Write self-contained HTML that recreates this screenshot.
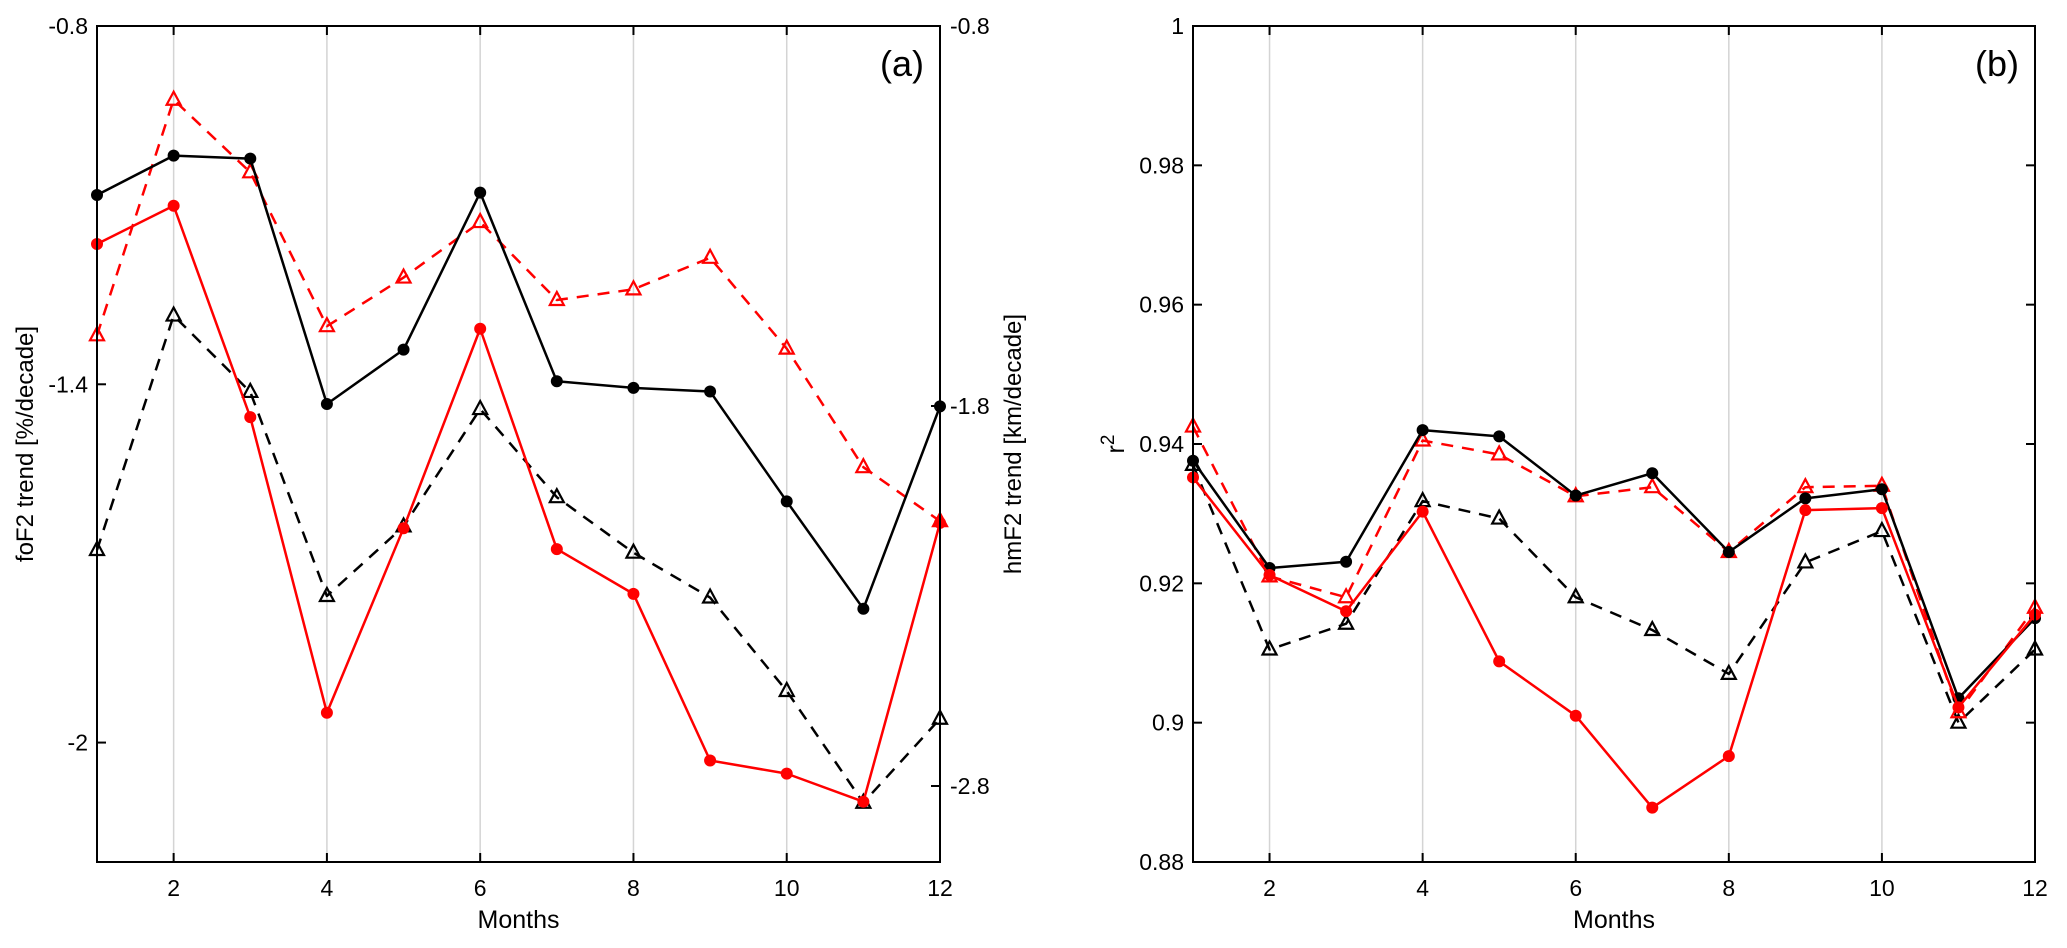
<!DOCTYPE html>
<html><head><meta charset="utf-8"><style>
html,body{margin:0;padding:0;background:#fff;}
svg{display:block;font-family:"Liberation Sans",Arial,sans-serif;}
</style></head><body>
<svg id="chart" width="2067" height="948" viewBox="0 0 2067 948" xmlns="http://www.w3.org/2000/svg"></svg>
<script>
const months = [1,2,3,4,5,6,7,8,9,10,11,12];
const xTicks = [2,4,6,8,10,12];
// Panel (a)
const foF2Black = [-1.083,-1.017,-1.022,-1.433,-1.342,-1.079,-1.395,-1.406,-1.412,-1.596,-1.776,-1.437];
const foF2Red = [-1.165,-1.101,-1.455,-1.950,-1.641,-1.307,-1.676,-1.751,-2.030,-2.052,-2.099,-1.632];
const hmF2Red = [-1.614,-0.994,-1.185,-1.590,-1.462,-1.316,-1.521,-1.493,-1.410,-1.649,-1.961,-2.103];
const hmF2Black = [-2.179,-1.562,-1.763,-2.300,-2.117,-1.808,-2.040,-2.186,-2.304,-2.550,-2.844,-2.623];
const leftTicksA = [-0.8,-1.4,-2];
const rightTicksA = [-0.8,-1.8,-2.8];
// Panel (b)
const r2BlackSolid = [0.9376,0.9222,0.9231,0.9420,0.9411,0.9326,0.9358,0.9245,0.9322,0.9335,0.9035,0.915];
const r2RedDashed = [0.9425,0.921,0.918,0.9405,0.9385,0.9325,0.9338,0.9245,0.9338,0.934,0.9015,0.9165];
const r2RedSolid = [0.9352,0.9212,0.916,0.9303,0.9088,0.9010,0.8878,0.8952,0.9305,0.9308,0.9022,0.9155];
const r2BlackDashed = [0.937,0.9105,0.9142,0.9318,0.9293,0.918,0.9133,0.907,0.923,0.9275,0.9,0.9105];
const yTicksB = [0.88,0.9,0.92,0.94,0.96,0.98,1];

const svg = document.getElementById('chart');
const NS = 'http://www.w3.org/2000/svg';
function mk(tag, attrs, parent){const e=document.createElementNS(NS,tag);for(const k in attrs)e.setAttribute(k,attrs[k]);(parent||svg).appendChild(e);return e;}
const TOP=26, BOT=862, TF=23;

function panel(left,right,name){
  const g=mk('g',{});
  
  
  const x=m=>left+(m-1)/11*(right-left);
  xTicks.forEach(t=>{
    const gl=mk('line',{x1:x(t),x2:x(t),y1:TOP,y2:BOT,stroke:'#d4d4d4','stroke-width':1.5},g);
    
    
    mk('line',{x1:x(t),x2:x(t),y1:BOT,y2:BOT-9,stroke:'#000','stroke-width':2},g);
    mk('line',{x1:x(t),x2:x(t),y1:TOP,y2:TOP+9,stroke:'#000','stroke-width':2},g);
    const tl=mk('text',{x:x(t),y:BOT+34,'font-size':TF,'text-anchor':'middle'},g);
    tl.textContent=t;
    
    
  });
  const xl=mk('text',{x:(left+right)/2,y:BOT+66,'font-size':25,'text-anchor':'middle'},g);
  xl.textContent='Months';
  
  
  return {g,x};
}
function frame(g,left,right){
  const r=mk('rect',{x:left,y:TOP,width:right-left,height:BOT-TOP,fill:'none',stroke:'#000','stroke-width':2},g);
  
  
}
function series(g,x,y,vals,color,dash,marker,name){
  const pts=vals.map((v,i)=>x(months[i])+','+y(v)).join(' ');
  const pl=mk('polyline',{points:pts,fill:'none',stroke:color,'stroke-width':2.5,'stroke-dasharray':dash?'12,9':'none','stroke-linejoin':'round'},g);
  
  
  vals.forEach((v,i)=>{
    const cx=x(months[i]),cy=y(v);let m;
    if(marker==='circle'){m=mk('circle',{cx:cx,cy:cy,r:6,fill:color},g);}
    else{m=mk('polygon',{points:`${cx},${cy-8} ${cx-7},${cy+5} ${cx+7},${cy+5}`,fill:'none',stroke:color,'stroke-width':2.2},g);}
    
    
  });
}

// Panel a
(function(){
  const L=97,R=940;
  const p=panel(L,R,'panel-a');
  const yL=v=>TOP+(-0.8-v)/1.4*(BOT-TOP);
  const yR=v=>TOP+(-0.8-v)/2.2*(BOT-TOP);
  leftTicksA.forEach(t=>{
    mk('line',{x1:L,x2:L+9,y1:yL(t),y2:yL(t),stroke:'#000','stroke-width':2},p.g);
    const tl=mk('text',{x:L-9,y:yL(t)+8,'font-size':TF,'text-anchor':'end'},p.g);
    tl.textContent=t===-2?'-2':t.toFixed(1);
    
    
  });
  rightTicksA.forEach(t=>{
    mk('line',{x1:R,x2:R-9,y1:yR(t),y2:yR(t),stroke:'#000','stroke-width':2},p.g);
    const tl=mk('text',{x:R+10,y:yR(t)+8,'font-size':TF,'text-anchor':'start'},p.g);
    tl.textContent=t.toFixed(1);
    
    
  });
  const yt=mk('text',{x:0,y:0,'font-size':24,'text-anchor':'middle',transform:`translate(33,${(TOP+BOT)/2}) rotate(-90)`},p.g);
  yt.textContent='foF2 trend [%/decade]';
  
  
  const yt2=mk('text',{x:0,y:0,'font-size':24,'text-anchor':'middle',transform:`translate(1021,${(TOP+BOT)/2}) rotate(-90)`},p.g);
  yt2.textContent='hmF2 trend [km/decade]';
  
  
  series(p.g,p.x,yR,hmF2Black,'#000',true,'tri','hmf2-black');
  series(p.g,p.x,yR,hmF2Red,'#f00',true,'tri','hmf2-red');
  series(p.g,p.x,yL,foF2Black,'#000',false,'circle','fof2-black');
  series(p.g,p.x,yL,foF2Red,'#f00',false,'circle','fof2-red');
  frame(p.g,L,R);
  const lab=mk('text',{x:R-16,y:TOP+50,'font-size':36,'text-anchor':'end'},p.g);
  lab.textContent='(a)';
  
  
})();

// Panel b
(function(){
  const L=1193,R=2035;
  const p=panel(L,R,'panel-b');
  const y=v=>BOT-(v-0.88)/0.12*(BOT-TOP);
  yTicksB.forEach(t=>{
    mk('line',{x1:L,x2:L+9,y1:y(t),y2:y(t),stroke:'#000','stroke-width':2},p.g);
    mk('line',{x1:R,x2:R-9,y1:y(t),y2:y(t),stroke:'#000','stroke-width':2},p.g);
    const tl=mk('text',{x:L-9,y:y(t)+8,'font-size':TF,'text-anchor':'end'},p.g);
    tl.textContent=String(parseFloat(t.toFixed(2)));
    
    
  });
  const yt=mk('text',{x:0,y:0,'font-size':25,'text-anchor':'middle',transform:`translate(1124,${(TOP+BOT)/2}) rotate(-90)`},p.g);
  yt.innerHTML='r<tspan font-size="19" dy="-10">2</tspan>';
  
  
  series(p.g,p.x,y,r2BlackDashed,'#000',true,'tri','r2-black-dashed');
  series(p.g,p.x,y,r2RedDashed,'#f00',true,'tri','r2-red-dashed');
  series(p.g,p.x,y,r2BlackSolid,'#000',false,'circle','r2-black-solid');
  series(p.g,p.x,y,r2RedSolid,'#f00',false,'circle','r2-red-solid');
  frame(p.g,L,R);
  const lab=mk('text',{x:R-16,y:TOP+50,'font-size':36,'text-anchor':'end'},p.g);
  lab.textContent='(b)';
  
  
})();
</script>
</body></html>
